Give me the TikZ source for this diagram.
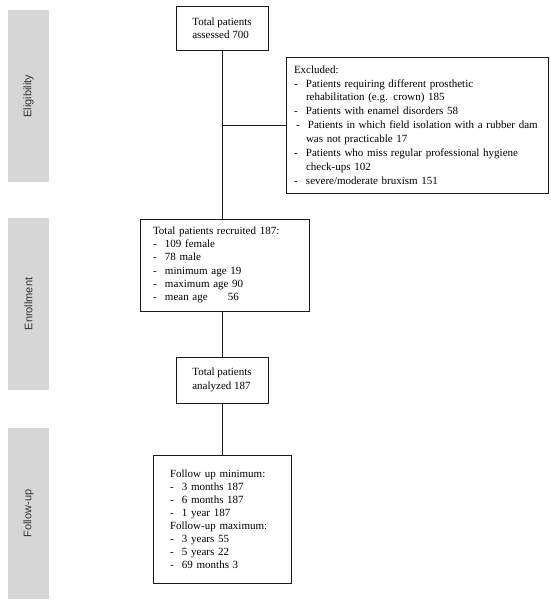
\documentclass[tikz,border=0pt]{standalone}
\usepackage{fontspec}
\setmainfont{Liberation Serif}
\newfontfamily\barfont{Liberation Sans}
\newcommand{\itm}[1]{\makebox[12pt][l]{-}#1}
\newcommand{\cont}[1]{\hspace*{12pt}#1}
\begin{document}
\begin{tikzpicture}[x=1pt,y=-1pt,
  box/.style={draw=black!90, line width=0.9pt, fill=white, font=\fontsize{11}{13.3}\selectfont, align=left, inner ysep=0pt},
  sidebar/.style={fill=black!16, draw=none, minimum width=41pt, inner sep=0pt},
  sidetext/.style={rotate=90, font=\barfont\fontsize{11}{13}\selectfont, text=black!80},
  link/.style={draw=black!90, line width=0.9pt}]
\useasboundingbox (0,0) rectangle (550,606);
% side bars
\node[sidebar, minimum height=172pt] (barE) at (28.5,96) {};
\node[sidetext] (tE) at (barE.center) {Eligibility};
\node[sidebar, minimum height=172pt] (barR) at (28.5,304) {};
\node[sidetext] (tR) at (barR.center) {Enrollment};
\node[sidebar, minimum height=171pt] (barF) at (28.5,513.5) {};
\node[sidetext] (tF) at (barF.center) {Follow-up};
% boxes
\node[box, minimum width=92pt, minimum height=44pt] (b1) at (222,28)
  {Total patients\\assessed 700};
\node[box, minimum width=262pt, minimum height=136pt, text width=246pt, inner xsep=8pt,
      font=\fontsize{11}{13.9}\selectfont] (ex) at (417,125)
  {Excluded:\\
   \itm{Patients requiring different prosthetic}\\
   \cont{rehabilitation (e.g. crown) 185}\\
   \itm{Patients with enamel disorders 58}\\
   \hspace*{2pt}\itm{Patients in which field isolation with a rubber dam}\\
   \cont{was not practicable 17}\\
   \itm{Patients who miss regular professional hygiene}\\
   \cont{check-ups 102}\\
   \itm{severe/moderate bruxism 151}};
\node[box, minimum width=169pt, minimum height=92pt, text width=143pt, inner xsep=13pt] (rec) at (224.5,265)
  {Total patients recruited 187:\\
   \itm{109 female}\\
   \itm{78 male}\\
   \itm{minimum age 19}\\
   \itm{maximum age 90}\\
   \itm{\makebox[63pt][l]{mean age}56}};
\node[box, minimum width=92pt, minimum height=46pt] (an) at (222,380)
  {Total patients\\analyzed 187};
\node[box, minimum width=138pt, minimum height=128pt, text width=104pt, inner xsep=17pt,
      font=\fontsize{11}{13}\selectfont] (fu) at (222,519)
  {Follow up minimum:\\
   \itm{3 months 187}\\
   \itm{6 months 187}\\
   \itm{1 year 187}\\
   Follow-up maximum:\\
   \itm{3 years 55}\\
   \itm{5 years 22}\\
   \itm{69 months 3}};
% connectors
\coordinate (br) at (222,125);
\draw[link] (b1.south) -- (b1.south |- rec.north);
\draw[link] (br) -- (ex.west |- br);
\draw[link] (rec.south -| an.north) -- (an.north);
\draw[link] (an.south) -- (fu.north);
\end{tikzpicture}
\end{document}
